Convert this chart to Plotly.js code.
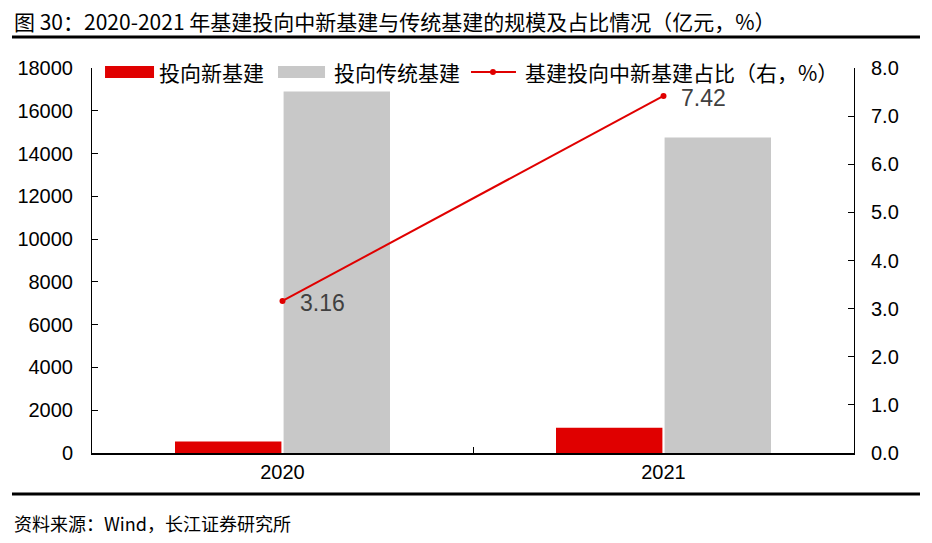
<!DOCTYPE html>
<html>
<head>
<meta charset="utf-8">
<script src="https://cdn.plot.ly/plotly-3.0.1.min.js"></script>
<style>html,body{margin:0;padding:0;background:#fff;}#chart{width:932px;height:543px;}</style>
</head>
<body>
<div id="chart"></div>
<script>
var years = ['2020', '2021'];
var newInfra = [540, 1180];
var tradInfra = [16900, 14750];
var newShare = [3.16, 7.42];
var shareLabels = ['3.16', '7.42'];
var seriesNames = ['投向新基建', '投向传统基建', '基建投向中新基建占比（右，%）'];
var leftTicks = [0, 2000, 4000, 6000, 8000, 10000, 12000, 14000, 16000, 18000];
var rightTicks = [0, 1, 2, 3, 4, 5, 6, 7, 8];

var FONT = 'Liberation Sans, Arial, Noto Sans CJK SC, sans-serif';
var CJK = 'Noto Sans CJK SC, Liberation Sans, sans-serif';
var RED = '#e00000', GRAY = '#c8c8c8';

var traces = [
  {type: 'bar', name: seriesNames[0], x: years, y: newInfra, marker: {color: RED}, yaxis: 'y'},
  {type: 'bar', name: seriesNames[1], x: years, y: tradInfra, marker: {color: GRAY}, yaxis: 'y'},
  {type: 'scatter', name: seriesNames[2], x: years, y: newShare, yaxis: 'y2',
   mode: 'lines+markers',
   line: {color: RED, width: 2}, marker: {color: RED, size: 6}}
];

// legend drawn in paper coordinates
var legY = 0.9896;
var shapes = [
  {type: 'line', xref: 'paper', yref: 'paper', x0: -0.105, x1: 1.0866, y0: 1.0805, y1: 1.0805, line: {color: '#000', width: 3}},
  {type: 'line', xref: 'paper', yref: 'paper', x0: -0.105, x1: 1.0866, y0: -0.1065, y1: -0.1065, line: {color: '#000', width: 3}},
  {type: 'rect', xref: 'paper', yref: 'paper', x0: 0.0171, x1: 0.0814, y0: 0.974, y1: 1.005, fillcolor: RED, line: {width: 0}},
  {type: 'rect', xref: 'paper', yref: 'paper', x0: 0.2441, x1: 0.3058, y0: 0.974, y1: 1.005, fillcolor: GRAY, line: {width: 0}},
  {type: 'line', xref: 'paper', yref: 'paper', x0: 0.4974, x1: 0.5564, y0: legY, y1: legY, line: {color: RED, width: 2}},
  {type: 'circle', xref: 'paper', yref: 'paper', x0: 0.5262 - 0.0039, x1: 0.5262 + 0.0039, y0: legY - 0.0078, y1: legY + 0.0078, fillcolor: RED, line: {width: 0}}
];
var legX = [0.0853, 0.315, 0.5656];
var annotations = [
  {xref: 'paper', yref: 'paper', x: -0.105, y: 1.122, xanchor: 'left', yanchor: 'middle', showarrow: false,
   text: '图 30：2020-2021 年基建投向中新基建与传统基建的规模及占比情况（亿元，%）',
   font: {family: CJK, size: 21, color: '#000'}},
  {xref: 'paper', yref: 'paper', x: -0.105, y: -0.182, xanchor: 'left', yanchor: 'middle', showarrow: false,
   text: '资料来源：Wind，长江证券研究所',
   font: {family: CJK, size: 18, color: '#000'}}
];
seriesNames.forEach(function(n, i){
  annotations.push({xref: 'paper', yref: 'paper', x: legX[i], y: legY, xanchor: 'left', yanchor: 'middle', showarrow: false,
    text: n, height: 24, font: {family: CJK, size: 21, color: '#000'}});
});
// data labels of the share line (x as category index)
years.forEach(function(yr, i){
  annotations.push({xref: 'x', yref: 'y2', x: i, y: newShare[i], xanchor: 'left', yanchor: 'middle', showarrow: false,
    xshift: 15, yshift: -2, text: shareLabels[i], height: 22, font: {family: FONT, size: 23, color: '#404040'}});
});

var layout = {
  width: 932, height: 543,
  margin: {l: 92, r: 78, t: 68, b: 90},
  paper_bgcolor: '#fff', plot_bgcolor: '#fff',
  font: {family: FONT, size: 20, color: '#000'},
  barmode: 'group', bargap: 0.43, bargroupgap: 0.02,
  showlegend: false,
  xaxis: {type: 'category', categoryarray: years, range: [-0.5, years.length - 0.5], showline: true, linecolor: '#000', linewidth: 1.5,
          ticks: 'inside', ticklen: 6, tickcolor: '#000', tickangle: 0,
          tickson: 'boundaries', showgrid: false, zeroline: false, tickfont: {size: 20}},
  yaxis: {range: [0, 18000], tickvals: leftTicks, tickformat: 'd', showline: true, linecolor: '#000', linewidth: 1, ticks: 'inside', ticklen: 6,
          tickcolor: '#000', showgrid: false, zeroline: false, tickfont: {size: 20}, ticklabelstandoff: 14},
  yaxis2: {range: [0, 8], tickvals: rightTicks, tickformat: '.1f', overlaying: 'y', side: 'right', showline: true, linecolor: '#000',
           linewidth: 1, ticks: 'inside', ticklen: 6, tickcolor: '#000', showgrid: false, zeroline: false, tickfont: {size: 20},
           ticklabelstandoff: 12},
  shapes: shapes,
  annotations: annotations
};

Plotly.newPlot('chart', traces, layout, {displayModeBar: false, staticPlot: true});
</script>
</body>
</html>
